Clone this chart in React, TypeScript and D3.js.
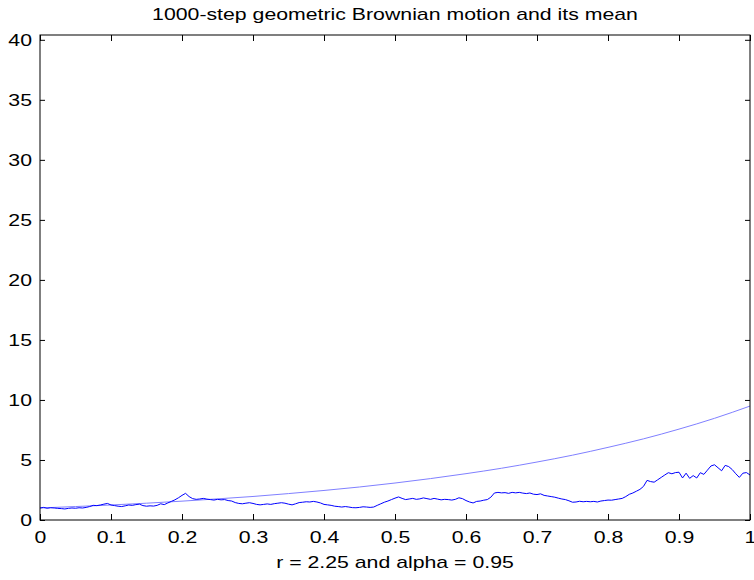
import { useEffect, useMemo, useRef } from "react";
import * as d3 from "d3";

const WIDTH = 754;
const HEIGHT = 580;
const BOUNDS = { left: 40, right: 750, top: 35, bottom: 520 };
const TEXT_STRETCH = 1.33;

const TITLE = "1000-step geometric Brownian motion and its mean";
const X_LABEL = "r = 2.25 and alpha = 0.95";

const X_TICKS = [0, 0.1, 0.2, 0.3, 0.4, 0.5, 0.6, 0.7, 0.8, 0.9, 1];
const Y_TICKS = [0, 5, 10, 15, 20, 25, 30, 35, 40];
const Y_MAX = 40.4;

// sample path, one value every 0.005 in t
const PATH_STEP = 0.005;
const pathValues = [
  1.0, 1.05, 0.98, 1.02, 1.0, 0.97, 0.95, 0.92, 0.97, 1.0,
  0.98, 1.02, 1.0, 1.05, 1.12, 1.22, 1.2, 1.25, 1.32, 1.38,
  1.25, 1.2, 1.15, 1.12, 1.18, 1.25, 1.22, 1.28, 1.32, 1.2,
  1.15, 1.18, 1.16, 1.22, 1.35, 1.28, 1.42, 1.55, 1.68, 1.85,
  2.05, 2.22, 1.95, 1.78, 1.72, 1.75, 1.8, 1.74, 1.7, 1.66,
  1.72, 1.68, 1.7, 1.62, 1.58, 1.45, 1.38, 1.35, 1.4, 1.44,
  1.38, 1.3, 1.26, 1.3, 1.34, 1.3, 1.36, 1.4, 1.44, 1.4,
  1.32, 1.26, 1.35, 1.45, 1.48, 1.52, 1.5, 1.55, 1.5, 1.42,
  1.3, 1.26, 1.22, 1.15, 1.12, 1.08, 1.12, 1.08, 1.03, 1.02,
  1.05, 1.1, 1.08, 1.05, 1.08, 1.22, 1.35, 1.48, 1.58, 1.7,
  1.82, 1.92, 1.8, 1.7, 1.75, 1.8, 1.72, 1.76, 1.84, 1.78,
  1.72, 1.8, 1.74, 1.68, 1.72, 1.7, 1.66, 1.72, 1.85, 1.78,
  1.62, 1.5, 1.42, 1.55, 1.58, 1.65, 1.7, 1.9, 2.25, 2.3,
  2.26, 2.28, 2.22, 2.3, 2.26, 2.3, 2.24, 2.2, 2.25, 2.15,
  2.12, 2.18, 2.05, 2.0, 1.95, 1.9, 1.82, 1.75, 1.7, 1.6,
  1.48, 1.5, 1.56, 1.52, 1.55, 1.52, 1.55, 1.5, 1.58, 1.62,
  1.66, 1.65, 1.7, 1.75, 1.8, 1.95, 2.14, 2.25, 2.4, 2.55,
  2.8, 3.3, 3.2, 3.15, 3.35, 3.55, 3.75, 3.94, 3.85, 3.95,
  3.98, 3.5, 3.9, 3.47, 3.7, 3.5, 3.94, 3.8, 4.15, 4.5,
  4.6, 4.35, 4.1, 4.55, 4.45, 4.2, 3.85, 3.55, 3.9, 3.95,
  3.75,
];

// mean curve, one value every 0.05 in t
const MEAN_STEP = 0.05;
const meanValues = [
  1.0, 1.12, 1.25, 1.4, 1.57, 1.76, 1.96, 2.2, 2.46, 2.75,
  3.08, 3.45, 3.86, 4.31, 4.83, 5.4, 6.05, 6.76, 7.57, 8.47,
  9.49,
];

const FONT = "'Liberation Sans', Arial, Helvetica, sans-serif";

export default function App() {
  const axesRef = useRef<SVGGElement>(null);

  const xScale = useMemo(
    () => d3.scaleLinear().domain([0, 1]).range([BOUNDS.left, BOUNDS.right]),
    []
  );
  const yScale = useMemo(
    () => d3.scaleLinear().domain([0, Y_MAX]).range([BOUNDS.bottom, BOUNDS.top]),
    []
  );

  const pathLine = d3
    .line<number>()
    .x((_, i) => xScale(i * PATH_STEP))
    .y((d) => yScale(d));

  const meanLine = d3
    .line<number>()
    .x((_, i) => xScale(i * MEAN_STEP))
    .y((d) => yScale(d))
    .curve(d3.curveMonotoneX);

  useEffect(() => {
    const g = d3.select(axesRef.current);
    g.selectAll("*").remove();

    const fmt = (d: d3.NumberValue) =>
      +d === 0 || +d === 1 ? String(+d) : d3.format(".1f")(+d);

    const bottom = g
      .append("g")
      .attr("transform", `translate(0,${BOUNDS.bottom})`)
      .call(
        d3.axisBottom(xScale).tickValues(X_TICKS).tickFormat(fmt).tickSizeInner(-6).tickSizeOuter(0).tickPadding(12)
      );
    g.append("g")
      .attr("transform", `translate(0,${BOUNDS.top})`)
      .call(d3.axisTop(xScale).tickValues(X_TICKS).tickFormat(() => "").tickSizeInner(-6).tickSizeOuter(0));
    const left = g
      .append("g")
      .attr("transform", `translate(${BOUNDS.left},0)`)
      .call(d3.axisLeft(yScale).tickValues(Y_TICKS).tickSizeInner(-5).tickSizeOuter(0).tickPadding(8));
    g.append("g")
      .attr("transform", `translate(${BOUNDS.right},0)`)
      .call(d3.axisRight(yScale).tickValues(Y_TICKS).tickFormat(() => "").tickSizeInner(-5).tickSizeOuter(0));

    g.selectAll(".domain").remove();
    g.selectAll(".tick line").attr("stroke", "#000");
    g.selectAll("g").attr("font-family", FONT).attr("font-size", 16);
    bottom.selectAll("text").attr("fill", "#000").attr("transform", `scale(${TEXT_STRETCH},1)`);
    left
      .selectAll("text")
      .attr("fill", "#000")
      .attr("dy", "0.36em")
      .attr("transform", `scale(${TEXT_STRETCH},1)`)
      .attr("x", -8 / TEXT_STRETCH);
  }, [xScale, yScale]);

  const cx = (BOUNDS.left + BOUNDS.right) / 2;

  return (
    <svg
      width={WIDTH}
      height={HEIGHT}
      style={{ position: "absolute", left: 0, top: 0, background: "#fff" }}
      fontFamily={FONT}
    >
      <rect width={WIDTH} height={HEIGHT} fill="#fff" />
      <path d={meanLine(meanValues) ?? ""} fill="none" stroke="#8080ff" strokeWidth={1} />
      <path d={pathLine(pathValues) ?? ""} fill="none" stroke="#0000ff" strokeWidth={1} />
      <g ref={axesRef} />
      <rect
        x={BOUNDS.left}
        y={BOUNDS.top}
        width={BOUNDS.right - BOUNDS.left}
        height={BOUNDS.bottom - BOUNDS.top}
        fill="none"
        stroke="#000"
        strokeWidth={1}
      />
      <text
        transform={`translate(${cx},20) scale(${TEXT_STRETCH},1)`}
        textAnchor="middle"
        fontSize={16}
        fill="#000"
      >
        {TITLE}
      </text>
      <text
        transform={`translate(${cx},568) scale(${TEXT_STRETCH},1)`}
        textAnchor="middle"
        fontSize={16}
        fill="#000"
      >
        {X_LABEL}
      </text>
    </svg>
  );
}
